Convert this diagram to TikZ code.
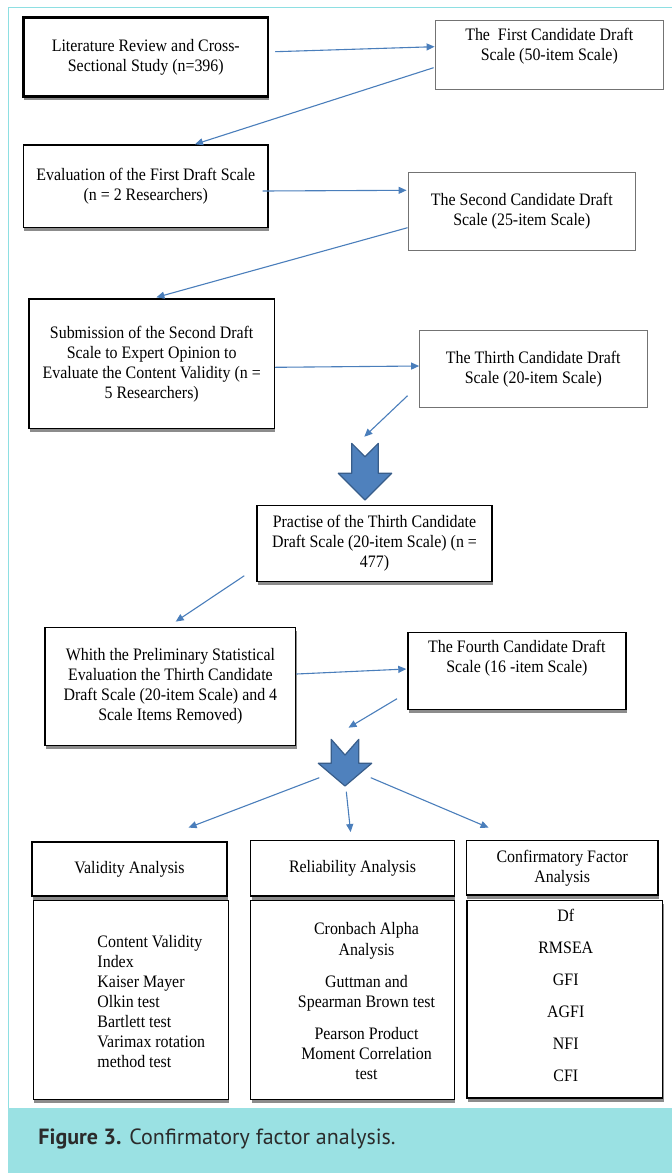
\documentclass[tikz,border=0pt]{standalone}
\usepackage{fontspec}
\setmainfont{Liberation Serif}[FakeStretch=0.91]
\newfontfamily\capfont{PT Sans}
\usetikzlibrary{arrows.meta,shadows,calc,positioning}
\definecolor{lineblue}{HTML}{4A7EBB}
\definecolor{blockblue}{HTML}{4F81BD}
\definecolor{blockedge}{HTML}{385D8A}
\definecolor{framecyan}{HTML}{8EDFE2}
\definecolor{bandcyan}{HTML}{9AE1E3}
\definecolor{captext}{HTML}{2B2B2B}

\begin{document}
\begin{tikzpicture}[x=1bp,y=-1bp,
    every node/.style={font=\fontsize{17.5bp}{20bp}\selectfont,align=center},
    wh/.style 2 args={minimum width=#1bp,minimum height=#2bp},
    box/.style={draw,line width=1.4bp,inner sep=0pt,fill=white,
        drop shadow={shadow xshift=0.8bp,shadow yshift=-3.5bp,fill=black!45,opacity=1}},
    plainbox/.style={draw=black!55,line width=0.9bp,inner sep=0pt},
    txt/.style={inner sep=0pt},
    arr/.style={draw=lineblue,line width=1.1bp,-{Triangle[length=8bp,width=7bp]}},
    blk/.style={fill=blockblue,draw=blockedge,line width=1.2bp,line join=round},
    capt/.style={font=\capfont\fontsize{22bp}{24bp}\selectfont,text=captext,inner sep=0pt,align=left}]
    \useasboundingbox (0,0) rectangle (672,1173);
    \fill[bandcyan] (8.3,1108) rectangle (672,1173);
    \draw[framecyan,line width=1.5bp] (672,7.3) -| (8.3,1108);

    \node[box,line width=2.5bp,wh={244.4}{79.4}] (lit) at (145.8,57) {Literature Review and Cross-\\Sectional Study (n=396)};
    \node[plainbox,wh={228.5}{68.3}] (first) at (549.3,54.8) {};
    \node[txt] (firsttxt) at (549.3,46) {The\ \ First Candidate Draft\\Scale (50-item Scale)};
    \node[box,wh={244.4}{82.7}] (eval) at (145.8,186.3) {Evaluation of the First Draft Scale\\(n = 2 Researchers)};
    \node[plainbox,wh={227.6}{77.6}] (second) at (521.8,211.5) {The Second Candidate Draft\\Scale (25-item Scale)};
    \node[box,wh={245.3}{129.3}] (sub) at (151.7,363.7) {Submission of the Second Draft\\Scale to Expert Opinion to\\Evaluate the Content Validity (n =\\5 Researchers)};
    \node[plainbox,wh={227.4}{76.6}] (third) at (533.3,369) {The Thirth Candidate Draft\\Scale (20-item Scale)};
    \node[box,wh={235}{76.4}] (prac) at (374.5,543.5) {Practise of the Thirth Candidate\\Draft Scale (20-item Scale) (n =\\477)};
    \node[box,wh={250.7}{118.4}] (whith) at (170.4,686.5) {Whith the Preliminary Statistical\\Evaluation the Thirth Candidate\\Draft Scale (20-item Scale) and 4\\Scale Items Removed)};
    \node[box,wh={217.8}{76.6}] (fourth) at (516.9,671) {};
    \node[txt] (fourthtxt) at (516.9,658) {The Fourth Candidate Draft\\Scale (16 -item Scale)};

    \node[box,wh={195}{54}] (valh) at (129.5,869) {Validity Analysis};
    \node[box,wh={203.6}{55.3}] (relh) at (352.5,868.4) {Reliability Analysis};
    \node[box,wh={191.7}{54.3}] (cfah) at (562.2,867.9) {Confirmatory Factor\\Analysis};
    \node[box,wh={195}{198.6}] (vall) at (131,1000) {};
    \node[txt,anchor=west,align=left] (valtxt) at (97.3,1001) {Content Validity\\Index\\Kaiser Mayer\\Olkin test\\Bartlett test\\Varimax rotation\\method test};
    \node[box,wh={203.6}{198.6}] (rell) at (352.5,1000) {};
    \node[txt] (reltxt) at (366.5,1001) {Cronbach Alpha\\Analysis\\[12bp]Guttman and\\Spearman Brown test\\[12bp]Pearson Product\\Moment Correlation\\test};
    \node[box,wh={195.7}{197.3}] (cfal) at (564.9,999.4) {};
    \node[txt] (cfatxt) at (565.8,995.5) {Df\\[12bp]RMSEA\\[12bp]GFI\\[12bp]AGFI\\[12bp]NFI\\[12bp]CFI};

    \coordinate (dn1) at (365,443.3);
    \coordinate (dn2) at (345,739.3);
    \begin{scope}[shift={(dn1)}]
        \draw[blk] (-13.3,0) -- (0,13.4) -- (13.3,0) -- (13.3,30) -- (26.7,30) -- (0,56.7) -- (-26.7,30) -- (-13.3,30) -- cycle;
    \end{scope}
    \begin{scope}[shift={(dn2)}]
        \draw[blk] (-13.8,0) -- (0,15.7) -- (13.8,0) -- (13.8,24) -- (26.7,24) -- (0,46.7) -- (-26.7,24) -- (-13.8,24) -- cycle;
    \end{scope}

    \draw[arr] ($(lit.east)+(6,-5.3)$) -- ($(first.west)+(0,-8.1)$);
    \draw[arr] ($(first.west)+(-1,12.9)$) -- ($(eval.north)+(49.2,0)$);
    \draw[arr] ($(eval.east)+(-6,4.7)$) -- ($(second.west)+(-1,-21.2)$);
    \draw[arr] ($(second.west)+(0,16.2)$) -- ($(sub.north)+(4.7,-1)$);
    \draw[arr] ($(sub.east)+(0,3.6)$) -- ($(third.west)+(0,-3)$);
    \draw[arr] ($(third.west)+(-11.6,26.7)$) -- ($(dn1)+(-0.7,-6.6)$);
    \draw[arr] ($(prac.south west)+(-12,-6.7)$) -- ($(whith.north)+(5.3,-5)$);
    \draw[arr] ($(whith.east)+(0,-12.5)$) -- ($(fourth.west)+(-1,-2)$);
    \draw[arr] ($(fourth.west)+(-10.3,27.7)$) -- ($(dn2)+(3.5,-11.6)$);
    \draw[arr] ($(dn2)+(-25.7,38.4)$) -- ($(valh.north)+(59.1,-13.7)$);
    \draw[arr] ($(dn2)+(1.3,52.4)$) -- ($(relh.north)+(-1.9,-8)$);
    \draw[arr] ($(dn2)+(25.8,38.4)$) -- ($(cfah.north)+(-73.6,-12.4)$);

    \node[capt,anchor=base west] (cap) at (38.3,1144) {\textbf{Figure 3.} Confirmatory factor analysis.};
\end{tikzpicture}
\end{document}
